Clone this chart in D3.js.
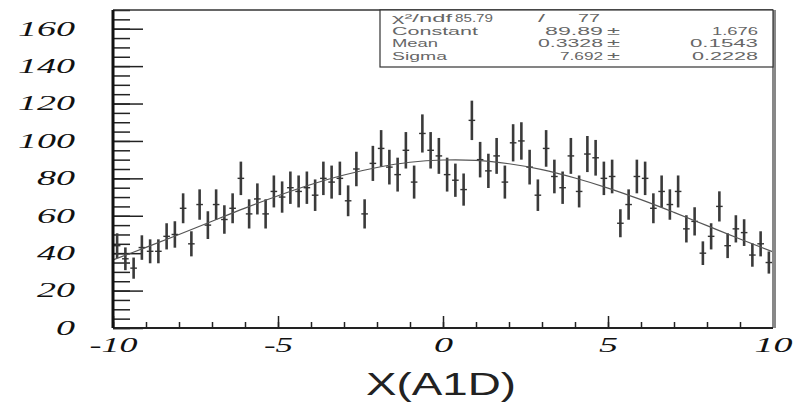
<!DOCTYPE html>
<html lang="en">
<head>
  <meta charset="UTF-8">
  <title>X(A1D)</title>
  <script src="https://cdn.jsdelivr.net/npm/d3@7"></script>
  <style>
    body {
      margin: 0;
      background: #fff;
    }

    svg {
      display: block;
    }

    .tick-label {
      font-family: 'Liberation Serif', 'DejaVu Serif', serif;
      font-style: italic;
      font-size: 20px;
      fill: #111;
    }

    .stats text {
      font-family: 'Liberation Sans', Arial, sans-serif;
      font-size: 11px;
      fill: #666;
    }

    .title {
      font-family: 'Liberation Sans', Arial, sans-serif;
      font-size: 32px;
      fill: #222;
    }
  </style>
</head>
<body>
  <script>
    // bin contents, 80 bins from -10 to 10
    var counts = [44, 37, 32, 43, 41, 41, 49, 50, 64, 45,
      66, 55, 66, 58, 64, 80, 61, 69, 61, 73,
      70, 75, 73, 75, 71, 80, 78, 80, 68, 85,
      61, 88, 96, 86, 82, 95, 78, 104, 95, 92,
      82, 79, 74, 111, 90, 84, 92, 78, 99, 100,
      86, 71, 96, 81, 75, 92, 73, 93, 91, 80,
      81, 56, 66, 81, 80, 64, 73, 66, 73, 53,
      57, 40, 49, 65, 44, 53, 51, 39, 45, 35];
    var xRange = [-10, 10];

    // fitted curve
    var fitX = [-10, -9, -8, -7, -6, -5, -4, -3, -2, -1, 0, 1, 2, 3, 4, 5, 6, 7, 8, 9, 10];
    var fitY = [36.4, 43.1, 50, 57.1, 64.1, 70.7, 76.7, 81.8, 85.8, 88.6, 89.8,
      89.6, 87.8, 84.7, 80.2, 74.8, 68.6, 61.8, 54.7, 47.6, 40.7];

    var xTicks = [-10, -5, 0, 5, 10];
    var yTicks = [0, 20, 40, 60, 80, 100, 120, 140, 160];

    var statsLabels = ["Constant", "Mean", "Sigma"];
    var statsValues = ["89.89", "0.3328", "7.692"];
    var statsErrors = ["1.676", "0.1543", "0.2228"];
    var chi2 = "85.79", ndf = "77";

    var margin = { top: 10, right: 21, bottom: 75, left: 113 };
    var width = 794 - margin.left - margin.right,
      height = 403 - margin.top - margin.bottom;

    var svg = d3.select("body").append("svg")
      .attr("width", 794)
      .attr("height", 403);

    var g = svg.append("g")
      .attr("transform", "translate(" + margin.left + "," + margin.top + ")");

    var x = d3.scaleLinear().domain(xRange).range([0, width]);
    var y = d3.scaleLinear().domain([0, 170]).range([height, 0]);

    var binWidth = (xRange[1] - xRange[0]) / counts.length;
    var bins = counts.map(function (c, i) {
      return { x: xRange[0] + (i + 0.5) * binWidth, n: c };
    });

    // the original print is stretched sideways, so fix text widths
    function setWidth(sel, w) {
      sel.attr("textLength", w).attr("lengthAdjust", "spacingAndGlyphs");
    }

    function labelWidth(s) {
      var w = 0;
      for (var c of s) w += (c === "-") ? 10 : 19;
      return w;
    }

    function plain(d) { return String(d); }

    // y axis: minor and major ticks pointing into the frame
    g.append("g")
      .call(d3.axisLeft(y).tickValues(d3.range(0, 171, 5)).tickSize(-17).tickFormat(""))
      .call(function (a) { a.select(".domain").remove(); });

    var yAxis = g.append("g")
      .call(d3.axisLeft(y).tickValues(yTicks).tickSize(-30).tickPadding(38).tickFormat(plain))
      .call(function (a) { a.select(".domain").remove(); });

    yAxis.selectAll("text")
      .attr("class", "tick-label")
      .attr("font-family", null)
      .attr("font-size", null)
      .each(function (d) { setWidth(d3.select(this), labelWidth(plain(d))); });

    // x axis
    g.append("g")
      .attr("transform", "translate(0," + height + ")")
      .call(d3.axisBottom(x).tickValues(d3.range(-10, 10.1, 1)).tickSize(-6).tickFormat(""))
      .call(function (a) { a.select(".domain").remove(); });

    var xAxis = g.append("g")
      .attr("transform", "translate(0," + height + ")")
      .call(d3.axisBottom(x).tickValues(xTicks).tickSize(-12).tickPadding(10).tickFormat(plain))
      .call(function (a) { a.select(".domain").remove(); });

    xAxis.selectAll("text")
      .attr("class", "tick-label")
      .attr("font-family", null)
      .attr("font-size", null)
      .each(function (d) { setWidth(d3.select(this), labelWidth(plain(d))); });

    g.selectAll(".tick line")
      .attr("stroke", "#222")
      .attr("stroke-width", 1.5);

    // error bars
    var bar = g.selectAll(".bin")
      .data(bins)
      .enter().append("g")
      .attr("class", "bin");

    bar.append("line")
      .attr("x1", function (d) { return x(d.x); })
      .attr("x2", function (d) { return x(d.x); })
      .attr("y1", function (d) { return y(d.n - Math.sqrt(d.n)); })
      .attr("y2", function (d) { return y(d.n + Math.sqrt(d.n)); })
      .attr("stroke", "#3a3a3a")
      .attr("stroke-width", 2.6);

    bar.append("line")
      .attr("x1", function (d) { return x(d.x - binWidth * 0.4); })
      .attr("x2", function (d) { return x(d.x + binWidth * 0.4); })
      .attr("y1", function (d) { return y(d.n); })
      .attr("y2", function (d) { return y(d.n); })
      .attr("stroke", "#333")
      .attr("stroke-width", 1.4);

    // fit curve
    var line = d3.line()
      .x(function (d, i) { return x(fitX[i]); })
      .y(function (d) { return y(d); })
      .curve(d3.curveCatmullRom);

    g.append("path")
      .datum(fitY)
      .attr("fill", "none")
      .attr("stroke", "#555")
      .attr("stroke-width", 1.2)
      .attr("d", line);

    // frame
    g.append("line").attr("x1", 0).attr("x2", width).attr("y1", 0).attr("y2", 0)
      .attr("stroke", "#333").attr("stroke-width", 1.5);
    g.append("line").attr("x1", width + 1).attr("x2", width + 1).attr("y1", 0).attr("y2", height)
      .attr("stroke", "#888").attr("stroke-width", 4);
    g.append("line").attr("x1", 0).attr("x2", width).attr("y1", height).attr("y2", height)
      .attr("stroke", "#222").attr("stroke-width", 2);
    g.append("line").attr("x1", 0).attr("x2", 0).attr("y1", 0).attr("y2", height)
      .attr("stroke", "#111").attr("stroke-width", 3);

    // stats box
    var stats = g.append("g").attr("class", "stats");
    stats.append("rect")
      .attr("x", 267).attr("y", 0)
      .attr("width", width - 267).attr("height", 57)
      .attr("fill", "#fff")
      .attr("stroke", "#333")
      .attr("stroke-width", 1.2);

    var rowY = [12, 25, 37, 50];

    stats.append("text").attr("x", 279).attr("y", rowY[0]).text("χ²/ndf").call(setWidth, 60);
    stats.append("text").attr("x", 342).attr("y", rowY[0]).text(chi2).call(setWidth, 38);
    stats.append("text").attr("x", 425).attr("y", rowY[0]).text("/").call(setWidth, 7);
    stats.append("text").attr("x", 465).attr("y", rowY[0]).text(ndf).call(setWidth, 22);

    var labelW = [86, 46, 55], valueW = [58, 65, 43], errorW = [46, 68, 66];

    statsLabels.forEach(function (lab, i) {
      var yy = rowY[i + 1];
      stats.append("text").attr("x", 279).attr("y", yy).text(lab).call(setWidth, labelW[i]);
      stats.append("text").attr("x", 490).attr("y", yy).attr("text-anchor", "end")
        .text(statsValues[i]).call(setWidth, valueW[i]);
      stats.append("text").attr("x", 494).attr("y", yy).text("±").call(setWidth, 13);
      stats.append("text").attr("x", 645).attr("y", yy).attr("text-anchor", "end")
        .text(statsErrors[i]).call(setWidth, errorW[i]);
    });

    // axis title
    svg.append("text")
      .attr("class", "title")
      .attr("x", 441)
      .attr("y", 395)
      .attr("text-anchor", "middle")
      .attr("textLength", 150)
      .attr("lengthAdjust", "spacingAndGlyphs")
      .text("X(A1D)");
  </script>
</body>
</html>
